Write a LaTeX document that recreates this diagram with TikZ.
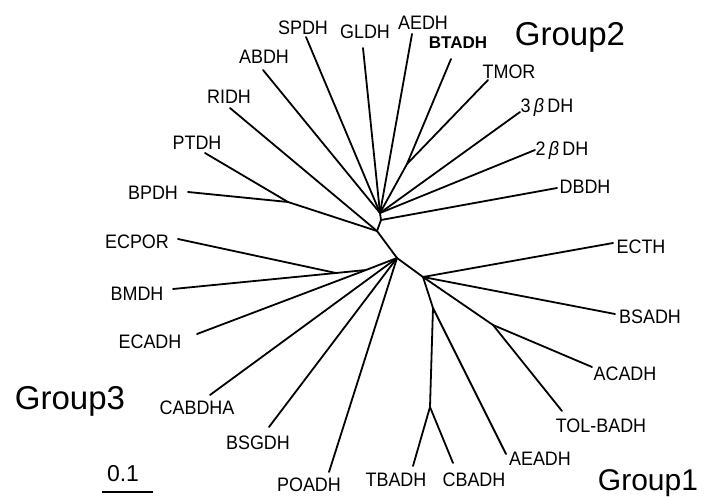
\documentclass[tikz,border=0pt]{standalone}
\usepackage{fontspec}
\setmainfont{Liberation Sans}
\newfontfamily\leaffont[FakeStretch=0.92]{Liberation Sans}
\begin{document}
\begin{tikzpicture}[x=1pt,y=-1pt,
  branch/.style={line width=1.8pt, line cap=round, line join=round},
  lbl/.style={font=\leaffont\fontsize{19.5}{22}\selectfont, inner sep=0pt},
  lblbold/.style={font=\fontsize{17}{20}\selectfont\bfseries, inner sep=0pt},
  grp/.style={font=\fontsize{33}{38}\selectfont, inner sep=0pt}]
\useasboundingbox (0,0) rectangle (704,497);

% ---- internal nodes of the tree ----
\coordinate (h1) at (423,277);
\coordinate (h2) at (377,231);
\coordinate (h3) at (397,258);
\coordinate (n1a) at (493,325);
\coordinate (n1b) at (433,308);
\coordinate (n1c) at (430,407);
\coordinate (p2) at (288,202);
\coordinate (n2b) at (381,220);
\coordinate (n2c) at (380,213);
\coordinate (n2d) at (407,164);
\coordinate (g3a) at (366,270);
\coordinate (g3b) at (336,273);

% ---- leaf tips ----
\coordinate (tSPDH) at (306,37);
\coordinate (tGLDH) at (363,48);
\coordinate (tAEDH) at (412,34);
\coordinate (tBTADH) at (451,59);
\coordinate (tTMOR) at (488,80);
\coordinate (t3bDH) at (520,112);
\coordinate (t2bDH) at (535,150);
\coordinate (tDBDH) at (557,188);
\coordinate (tABDH) at (263,70);
\coordinate (tRIDH) at (230,108);
\coordinate (tPTDH) at (205,153);
\coordinate (tBPDH) at (188,192);
\coordinate (tECPOR) at (178,239);
\coordinate (tBMDH) at (173,289);
\coordinate (tECADH) at (197,334);
\coordinate (tCABDHA) at (210,395);
\coordinate (tBSGDH) at (269,427);
\coordinate (tPOADH) at (329,472);
\coordinate (tTBADH) at (413,466);
\coordinate (tCBADH) at (453,463);
\coordinate (tAEADH) at (506,454);
\coordinate (tTOLBADH) at (562,411);
\coordinate (tACADH) at (592,367);
\coordinate (tBSADH) at (615,314);
\coordinate (tECTH) at (613,243);

% ---- branches ----
\draw[branch] (h2) -- (h3) -- (h1);
% group 1
\draw[branch] (h1) -- (tECTH);
\draw[branch] (h1) -- (tBSADH);
\draw[branch] (h1) -- (n1a) -- (tACADH);
\draw[branch] (n1a) -- (tTOLBADH);
\draw[branch] (h1) -- (n1b) -- (tAEADH);
\draw[branch] (n1b) -- (n1c) -- (tCBADH);
\draw[branch] (n1c) -- (tTBADH);
% group 3
\draw[branch] (h3) -- (tPOADH);
\draw[branch] (h3) -- (tBSGDH);
\draw[branch] (h3) -- (tCABDHA);
\draw[branch] (h3) -- (g3a) -- (tECADH);
\draw[branch] (g3a) -- (g3b) -- (tECPOR);
\draw[branch] (g3b) -- (tBMDH);
% group 2
\draw[branch] (h2) -- (p2) -- (tPTDH);
\draw[branch] (p2) -- (tBPDH);
\draw[branch] (h2) -- (tRIDH);
\draw[branch] (h2) -- (n2b) -- (tDBDH);
\draw[branch] (n2b) -- (n2c);
\draw[branch] (n2c) -- (tABDH);
\draw[branch] (n2c) -- (tSPDH);
\draw[branch] (n2c) -- (tGLDH);
\draw[branch] (n2c) -- (tAEDH);
\draw[branch] (n2c) -- (n2d) -- (tBTADH);
\draw[branch] (n2d) -- (tTMOR);
\draw[branch] (n2c) -- (t3bDH);
\draw[branch] (n2c) -- (t2bDH);

% ---- leaf labels ----
\node[lbl] (lSPDH) at (303,28) {SPDH};
\node[lbl] (lGLDH) at (365,32) {GLDH};
\node[lbl] (lAEDH) at (423,23) {AEDH};
\node[lblbold] (lBTADH) at (458,43) {BTADH};
\node[lbl] (lTMOR) at (509,72) {TMOR};
\node[lbl] (l3bDH) at (547,107) {3\,{\itshape β}\,DH};
\node[lbl] (l2bDH) at (562,150) {2\,{\itshape β}\,DH};
\node[lbl] (lDBDH) at (585,187) {DBDH};
\node[lbl] (lABDH) at (264,57) {ABDH};
\node[lbl] (lRIDH) at (229,97) {RIDH};
\node[lbl] (lPTDH) at (197,143) {PTDH};
\node[lbl] (lBPDH) at (153,193) {BPDH};
\node[lbl] (lECPOR) at (137,242) {ECPOR};
\node[lbl] (lBMDH) at (137,294) {BMDH};
\node[lbl] (lECADH) at (150,342) {ECADH};
\node[lbl] (lCABDHA) at (197,408) {CABDHA};
\node[lbl] (lBSGDH) at (258,443) {BSGDH};
\node[lbl] (lPOADH) at (309,485) {POADH};
\node[lbl] (lTBADH) at (396,480) {TBADH};
\node[lbl] (lCBADH) at (474,480) {CBADH};
\node[lbl] (lAEADH) at (540,459) {AEADH};
\node[lbl] (lTOLBADH) at (601,426) {TOL-BADH};
\node[lbl] (lACADH) at (625,374) {ACADH};
\node[lbl] (lBSADH) at (650,317) {BSADH};
\node[lbl] (lECTH) at (641,247) {ECTH};

% ---- group names ----
\node[grp, font=\fontsize{30}{36}\selectfont] (gr1) at (648,483) {Group1};
\node[grp] (gr2) at (570,37) {Group2};
\node[grp] (gr3) at (70,401) {Group3};

% ---- scale bar ----
\coordinate (sb1) at (102,492);
\coordinate (sb2) at (153,492);
\draw[branch, line cap=butt] (sb1) -- (sb2);
\node[lbl, font=\fontsize{23}{26}\selectfont] (sblabel) at (123,474) {0.1};
\end{tikzpicture}
\end{document}
